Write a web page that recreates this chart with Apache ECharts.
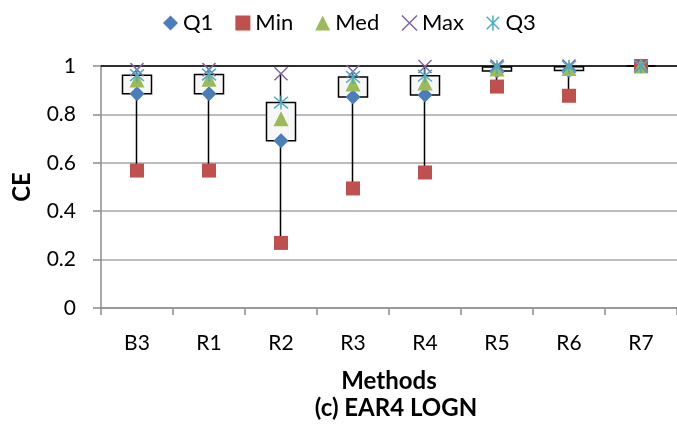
<!DOCTYPE html>
<html>
<head>
<meta charset="utf-8">
<script src="https://cdn.jsdelivr.net/npm/echarts@6/dist/echarts.min.js"></script>
<style>
    html, body { margin: 0; padding: 0; background: #fff; }
    #chart { width: 677px; height: 429px; }
</style>
</head>
<body>
<div id="chart"></div>
<script>
    // 数据
    var methods = ['B3', 'R1', 'R2', 'R3', 'R4', 'R5', 'R6', 'R7'];
    var q1Data = [0.885, 0.885, 0.691, 0.872, 0.880, 0.979, 0.981, 1.0];
    var minData = [0.568, 0.568, 0.269, 0.494, 0.560, 0.915, 0.877, 1.0];
    var medData = [0.942, 0.945, 0.782, 0.926, 0.930, 0.988, 0.990, 1.0];
    var maxData = [0.985, 0.985, 0.968, 0.977, 0.998, 1.0, 1.0, 1.0];
    var q3Data = [0.962, 0.965, 0.849, 0.955, 0.960, 0.996, 0.997, 1.0];

    var fontName = 'Lato';
    var xPath = 'path://M0,0L10,10M10,0L0,10';
    var starPath = 'path://M0,0L10,10M10,0L0,10M5,-1L5,11';

    // 箱体: open=Q1, close=Q3, low=Min, high=Max
    var boxData = methods.map(function (m, i) {
        return [q1Data[i], q3Data[i], minData[i], maxData[i]];
    });

    var option = {
        animation: false,
        backgroundColor: '#fff',
        textStyle: { fontFamily: fontName, color: '#000' },
        title: {
            text: '(c) EAR4 LOGN',
            left: 391,
            textAlign: 'center',
            top: 391,
            textStyle: { fontFamily: fontName, fontSize: 24, fontWeight: 'bold', color: '#000' }
        },
        legend: {
            left: 158,
            top: 7,
            itemWidth: 15,
            itemHeight: 15,
            itemGap: 22,
            textStyle: { fontFamily: fontName, fontSize: 22, color: '#000' },
            data: [
                { name: 'Q1' },
                { name: 'Min' },
                { name: 'Med' },
                { name: 'Max', itemStyle: { color: 'rgba(0,0,0,0)', borderColor: '#8064A2', borderWidth: 1.5 } },
                { name: 'Q3', itemStyle: { color: 'rgba(0,0,0,0)', borderColor: '#4BACC6', borderWidth: 1.5 } }
            ]
        },
        grid: { left: 101, right: -5, top: 66, bottom: 121, containLabel: false },
        xAxis: [{
            type: 'category',
            data: methods,
            name: 'Methods',
            nameLocation: 'middle',
            nameGap: 61,
            nameTextStyle: { fontFamily: fontName, fontSize: 24, fontWeight: 'bold', color: '#000' },
            axisLine: { lineStyle: { color: '#8c8c8c', width: 1.5 } },
            axisTick: { show: true, length: 7, lineStyle: { color: '#8c8c8c', width: 1.5 } },
            axisLabel: { fontFamily: fontName, fontSize: 21, color: '#000', margin: 25 }
        }, {
            type: 'category',
            data: methods,
            position: 'top',
            axisLine: { lineStyle: { color: '#000', width: 1.5 } },
            axisTick: { show: false },
            axisLabel: { show: false }
        }],
        yAxis: {
            type: 'value',
            min: 0,
            max: 1,
            interval: 0.2,
            name: 'CE',
            nameLocation: 'middle',
            nameGap: 67,
            nameTextStyle: { fontFamily: fontName, fontSize: 24, fontWeight: 'bold', color: '#000' },
            axisLine: { show: true, lineStyle: { color: '#8c8c8c', width: 1.5 } },
            axisTick: { show: true, length: 8, lineStyle: { color: '#8c8c8c', width: 1.5 } },
            axisLabel: {
                fontFamily: fontName, fontSize: 21, color: '#000', margin: 25,
                formatter: function (v) { return String(+v.toFixed(1)); }
            },
            splitLine: { lineStyle: { color: '#a6a6a6', width: 1.5 } }
        },
        series: [{
            name: 'box',
            type: 'candlestick',
            barWidth: 30,
            data: boxData,
            itemStyle: {
                color: '#f7f7f7',
                color0: '#f7f7f7',
                borderColor: '#000',
                borderColor0: '#000',
                borderWidth: 1.5
            }
        }, {
            name: 'Q1',
            type: 'scatter',
            symbol: 'diamond',
            symbolSize: 15,
            data: q1Data,
            itemStyle: { color: '#4A7EBB', opacity: 1 }
        }, {
            name: 'Min',
            type: 'scatter',
            symbol: 'rect',
            symbolSize: 14,
            data: minData,
            itemStyle: { color: '#C0504D', opacity: 1 }
        }, {
            name: 'Med',
            type: 'scatter',
            symbol: 'triangle',
            symbolSize: 15,
            data: medData,
            itemStyle: { color: '#9BBB59', opacity: 1 }
        }, {
            name: 'Max',
            type: 'scatter',
            symbol: xPath,
            symbolSize: 13,
            data: maxData,
            itemStyle: { color: 'rgba(0,0,0,0)', borderColor: '#8064A2', borderWidth: 1.5, opacity: 1 }
        }, {
            name: 'Q3',
            type: 'scatter',
            symbol: starPath,
            symbolSize: 14,
            data: q3Data,
            itemStyle: { color: 'rgba(0,0,0,0)', borderColor: '#4BACC6', borderWidth: 1.5, opacity: 1 }
        }]
    };

    var myChart = echarts.init(document.getElementById('chart'));
    myChart.setOption(option);
</script>
</body>
</html>
